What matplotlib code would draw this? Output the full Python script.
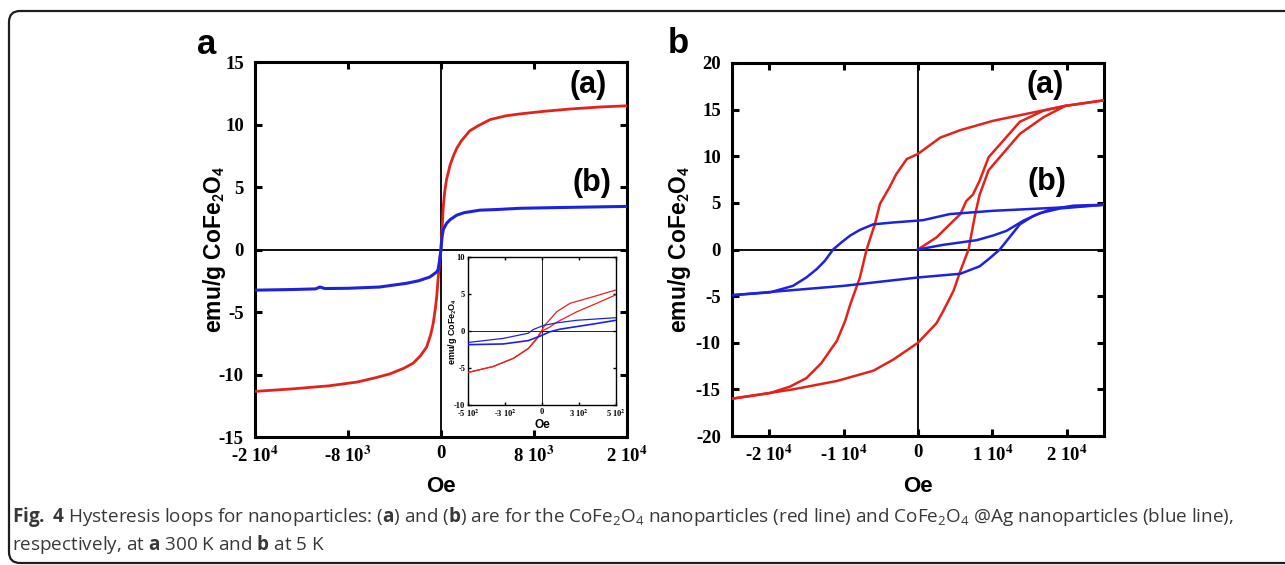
import matplotlib
matplotlib.use('Agg')
import matplotlib.pyplot as plt
from matplotlib.patches import FancyBboxPatch
from matplotlib.transforms import IdentityTransform

# ----------------------------------------------------------------------------
#  DATA
# ----------------------------------------------------------------------------
# panel a : 300 K, CoFe2O4 (red) and CoFe2O4@Ag (blue)
a_red_H = [-20000, -16000, -12000, -9000, -7000, -5500, -4000, -3000, -2200, -1540,
           -1100, -830, -600, -460, -290, -150, 0, 70, 150, 250, 400, 600, 1000, 1400,
           1700, 2200, 3100, 4000, 5300, 7000, 8500, 11000, 14000, 17000, 20000]
a_red_M = [-11.35, -11.15, -10.9, -10.6, -10.25, -9.95, -9.5, -9.1, -8.5, -7.8,
           -6.8, -5.9, -4.7, -3.8, -2.2, -1.0, 0.0, 1.0, 2.0, 3.4, 4.6, 5.6, 6.8, 7.6,
           8.1, 8.7, 9.5, 9.9, 10.4, 10.7, 10.85, 11.05, 11.25, 11.4, 11.5]

a_blue_H = [-20000, -16000, -13500, -13000, -12500, -10000, -6600, -3700, -2400, -1200,
            -460, -300, -150, 0, 100, 250, 610, 1000, 1700, 2500, 4200, 6000, 8500,
            12000, 16000, 20000]
a_blue_M = [-3.25, -3.2, -3.15, -3.0, -3.12, -3.1, -3.0, -2.7, -2.5, -2.2,
            -1.8, -1.6, -0.9, 0.0, 0.9, 1.6, 2.1, 2.4, 2.75, 2.95, 3.15, 3.2, 3.3,
            3.35, 3.4, 3.45]

# inset of panel a (low field region)
in_red_up_H = [500, 348, 190, 99, 20, -36, -93, -194, -330, -500]
in_red_up_M = [5.55, 4.65, 3.75, 2.6, 0.8, -1.0, -2.35, -3.7, -4.8, -5.6]
in_red_dn_H = [-500, -330, -194, -93, -40, 0, 50, 100, 235, 370, 500]
in_red_dn_M = [-5.6, -4.8, -3.7, -2.4, -1.2, 0.0, 0.5, 1.2, 2.6, 3.75, 4.9]

in_blue_up_H = [500, 235, 99, 9, -59, -93, -262, -500]
in_blue_up_M = [1.8, 1.45, 1.1, 0.75, 0.2, -0.3, -1.0, -1.55]
in_blue_dn_H = [-500, -262, -93, -14, 54, 122, 348, 500]
in_blue_dn_M = [-1.85, -1.75, -1.3, -0.7, -0.1, 0.25, 0.95, 1.45]

# panel b : 5 K
b_red_up_H = [25000, 19800, 14600, 10100, 5700, 3000, 0, -1500, -2900, -3800, -5100,
              -5800, -6900, -7800, -9100, -9800, -10900, -13000, -15000, -17200, -19900, -25000]
b_red_up_M = [16.0, 15.4, 14.55, 13.8, 12.8, 12.0, 10.25, 9.7, 8.1, 6.7, 4.9,
              2.7, 0.0, -3.0, -5.9, -7.7, -9.8, -12.2, -13.8, -14.7, -15.4, -16.0]
b_red_dn_H = [-25000, -16800, -10900, -6000, -3300, 0, 2500, 3400, 4800, 5700, 6800,
              7700, 8300, 9500, 11000, 13700, 16900, 19800, 25000]
b_red_dn_M = [-16.0, -15.0, -14.1, -13.0, -11.8, -10.0, -7.9, -6.6, -4.4, -2.3, 0.0,
              3.8, 5.9, 8.5, 9.9, 12.4, 14.2, 15.4, 16.0]
b_red_vg_H = [0, 2500, 3900, 5700, 6500, 7400, 8300, 9500, 11500, 13700, 16900, 19800]
b_red_vg_M = [0.0, 1.3, 2.4, 3.8, 5.2, 5.9, 7.4, 9.9, 11.7, 13.7, 14.9, 15.4]

b_blue_up_H = [25000, 19100, 10100, 4300, 700, 0, -3300, -6000, -7800, -9100, -10300,
               -11400, -12500, -13600, -15000, -16800, -19900, -25000]
b_blue_up_M = [4.8, 4.5, 4.15, 3.8, 3.15, 3.1, 2.9, 2.7, 2.1, 1.5, 0.75,
               0.0, -1.2, -2.1, -3.0, -3.9, -4.6, -4.9]
b_blue_dn_H = [-25000, -19000, -10000, 0, 5700, 8300, 9700, 11000, 11900, 13700,
               15500, 17800, 20900, 25000]
b_blue_dn_M = [-4.9, -4.5, -3.9, -3.0, -2.6, -1.8, -0.9, 0.0, 0.9, 2.7,
               3.6, 4.3, 4.7, 4.8]
b_blue_vg_H = [0, 3400, 7900, 10100, 11900, 14200, 16400, 19100, 25000]
b_blue_vg_M = [0.0, 0.5, 1.0, 1.5, 2.0, 3.1, 3.9, 4.4, 4.8]

# tick labels as printed in the figure
a_xticks = [-20000, -10000, 0, 10000, 20000]
a_xlabels = ['-2 10$^\\mathbf{4}$', '-8 10$^\\mathbf{3}$', '0', '8 10$^\\mathbf{3}$', '2 10$^\\mathbf{4}$']
b_xticks = [-20000, -10000, 0, 10000, 20000]
b_xlabels = ['-2 10$^\\mathbf{4}$', '-1 10$^\\mathbf{4}$', '0', '1 10$^\\mathbf{4}$', '2 10$^\\mathbf{4}$']
in_xticks = [-500, -250, 0, 250, 500]
in_xlabels = ['-5 10$^\\mathbf{2}$', '-3 10$^\\mathbf{2}$', '0', '3 10$^\\mathbf{2}$', '5 10$^\\mathbf{2}$']
a_yticks = [-15, -10, -5, 0, 5, 10, 15]
b_yticks = [-20, -15, -10, -5, 0, 5, 10, 15, 20]
in_yticks = [-10, -5, 0, 5, 10]

# ----------------------------------------------------------------------------
#  STYLE
# ----------------------------------------------------------------------------
plt.rcParams['mathtext.fontset'] = 'custom'
plt.rcParams['mathtext.rm'] = 'Open Sans'
plt.rcParams['mathtext.bf'] = 'Open Sans:bold'

red = '#e3221c'
blue = '#1f22dd'
serif = 'Liberation Serif'
sans = 'Liberation Sans'
ylab = 'emu/g CoFe$_\\mathbf{2}$O$_\\mathbf{4}$'


def style_axes(ax, xticks, xlabels, yticks, fs, spine_w, tick_len, pad_x, pad_y):
    for s in ax.spines.values():
        s.set_linewidth(spine_w)
    ax.axhline(0, color='black', lw=spine_w * 0.6, zorder=1)
    ax.axvline(0, color='black', lw=spine_w * 0.6, zorder=1)
    ax.set_xticks(xticks)
    ax.set_xticklabels(xlabels, fontfamily=serif, fontweight='bold', fontsize=fs,
                       math_fontfamily='stix')
    ax.set_yticks(yticks)
    ax.set_yticklabels([str(v) for v in yticks], fontfamily=serif, fontweight='bold',
                       fontsize=fs)
    ax.tick_params(direction='in', top=True, right=True, length=tick_len,
                   width=spine_w)
    ax.tick_params(axis='x', pad=pad_x)
    ax.tick_params(axis='y', pad=pad_y)


fig = plt.figure(figsize=(12.85, 5.65), dpi=100)

# outer rounded frame (right side runs off the picture)
frame = FancyBboxPatch((9, 2), 1450, 552, boxstyle='round,pad=0,rounding_size=11',
                       fill=False, edgecolor='#1e1e1e', lw=1.6,
                       transform=IdentityTransform())
fig.add_artist(frame)

# ---------------- panel a ----------------
ax_a = fig.add_axes([0.1984, 0.2265, 0.2895, 0.6637])
ax_a.plot(a_red_H, a_red_M, color=red, lw=2.0, zorder=3)
ax_a.plot(a_blue_H, a_blue_M, color=blue, lw=2.2, zorder=3)
ax_a.set_xlim(-20000, 20000)
ax_a.set_ylim(-15, 15)
style_axes(ax_a, a_xticks, a_xlabels, a_yticks, 13.5, 2.2, 5, 6, 8)
ax_a.set_xlabel('Oe', fontfamily=sans, fontweight='bold', fontsize=16)
ax_a.xaxis.set_label_coords(0.5, -0.133)
ax_a.xaxis.label.set_va('center')
ax_a.set_ylabel(ylab, fontfamily=sans, fontweight='bold', fontsize=16.5,
                math_fontfamily='stixsans')
ax_a.yaxis.set_label_coords(-0.11, 0.5)
ax_a.yaxis.label.set_va('center')
ax_a.text(0.895, 0.939, '(a)', transform=ax_a.transAxes, ha='center', va='center',
          fontfamily=sans, fontweight='bold', fontsize=22)
ax_a.text(0.906, 0.677, '(b)', transform=ax_a.transAxes, ha='center', va='center',
          fontfamily=sans, fontweight='bold', fontsize=22)

# inset
ax_in = fig.add_axes([0.3642, 0.2832, 0.1152, 0.2619])
ax_in.plot(in_red_up_H, in_red_up_M, color=red, lw=0.9, zorder=3)
ax_in.plot(in_red_dn_H, in_red_dn_M, color=red, lw=0.9, zorder=3)
ax_in.plot(in_blue_up_H, in_blue_up_M, color=blue, lw=0.9, zorder=3)
ax_in.plot(in_blue_dn_H, in_blue_dn_M, color=blue, lw=1.2, zorder=3)
ax_in.set_xlim(-500, 500)
ax_in.set_ylim(-10, 10)
style_axes(ax_in, in_xticks, in_xlabels, in_yticks, 6, 1.0, 2.5, 2, 2)
ax_in.set_xlabel('Oe', fontfamily=sans, fontweight='bold', fontsize=8.5, labelpad=0)
ax_in.set_ylabel(ylab, fontfamily=sans, fontweight='bold', fontsize=6.5,
                 math_fontfamily='stixsans')
ax_in.yaxis.set_label_coords(-0.105, 0.5)
ax_in.yaxis.label.set_va('center')

# ---------------- panel b ----------------
ax_b = fig.add_axes([0.5696, 0.2283, 0.2895, 0.6602])
ax_b.plot(b_red_up_H, b_red_up_M, color=red, lw=1.8, zorder=3)
ax_b.plot(b_red_dn_H, b_red_dn_M, color=red, lw=1.8, zorder=3)
ax_b.plot(b_red_vg_H, b_red_vg_M, color=red, lw=1.8, zorder=3)
ax_b.plot(b_blue_up_H, b_blue_up_M, color=blue, lw=1.8, zorder=3)
ax_b.plot(b_blue_dn_H, b_blue_dn_M, color=blue, lw=1.8, zorder=3)
ax_b.plot(b_blue_vg_H, b_blue_vg_M, color=blue, lw=1.8, zorder=3)
ax_b.set_xlim(-25000, 25000)
ax_b.set_ylim(-20, 20)
style_axes(ax_b, b_xticks, b_xlabels, b_yticks, 13.5, 2.2, 5, 6, 8)
ax_b.set_xlabel('Oe', fontfamily=sans, fontweight='bold', fontsize=16)
ax_b.xaxis.set_label_coords(0.5, -0.136)
ax_b.xaxis.label.set_va('center')
ax_b.set_ylabel(ylab, fontfamily=sans, fontweight='bold', fontsize=16.5,
                math_fontfamily='stixsans')
ax_b.yaxis.set_label_coords(-0.14, 0.5)
ax_b.yaxis.label.set_va('center')
ax_b.text(0.841, 0.941, '(a)', transform=ax_b.transAxes, ha='center', va='center',
          fontfamily=sans, fontweight='bold', fontsize=22)
ax_b.text(0.847, 0.681, '(b)', transform=ax_b.transAxes, ha='center', va='center',
          fontfamily=sans, fontweight='bold', fontsize=22)

# panel letters
fig.text(0.1533, 0.9044, 'a', fontfamily=sans, fontweight='bold', fontsize=25,
         va='baseline')
fig.text(0.5198, 0.9062, 'b', fontfamily=sans, fontweight='bold', fontsize=25,
         va='baseline')

# caption
cap1 = ('$\\mathbf{Fig.}$ $\\mathbf{4}$ Hysteresis loops for nanoparticles: ($\\mathbf{a}$) and '
        '($\\mathbf{b}$) are for the CoFe$_2$O$_4$ nanoparticles (red line) and '
        'CoFe$_2$O$_4$ @Ag nanoparticles (blue line),')
cap2 = 'respectively, at $\\mathbf{a}$ 300 K and $\\mathbf{b}$ at 5 K'
fig.text(12 / 1285, 1 - 522 / 565, cap1, fontfamily='Open Sans', fontsize=13.6,
         color='#383838', va='baseline')
fig.text(12 / 1285, 1 - 550 / 565, cap2, fontfamily='Open Sans', fontsize=13.6,
         color='#383838', va='baseline')

fig.savefig('out.png', dpi=100)
